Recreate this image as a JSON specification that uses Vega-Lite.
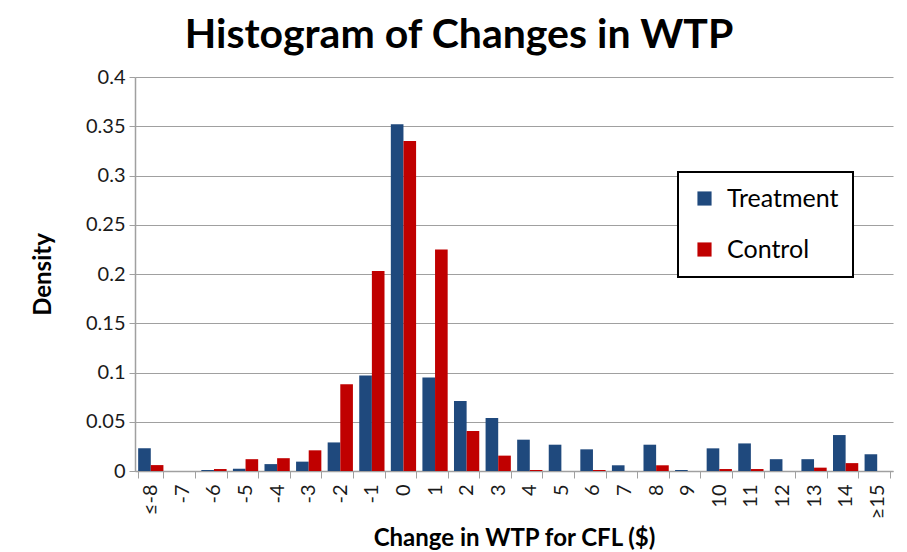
{
  "$schema": "https://vega.github.io/schema/vega-lite/v6.json",
  "width": 758,
  "height": 394,
  "autosize": {"type": "none"},
  "padding": {"left": 135, "top": 77, "right": 14, "bottom": 81},
  "background": "white",
  "title": {
    "text": "Histogram of Changes in WTP",
    "font": "Lato",
    "fontSize": 41,
    "fontWeight": "bold",
    "color": "#000000",
    "anchor": "middle",
    "offset": 10,
    "dx": -55
  },
  "data": {
    "values": [
      {"cat": "≤-8", "group": "Treatment", "density": 0.023},
      {"cat": "≤-8", "group": "Control", "density": 0.006},
      {"cat": "-7", "group": "Treatment", "density": 0},
      {"cat": "-7", "group": "Control", "density": 0},
      {"cat": "-6", "group": "Treatment", "density": 0.001},
      {"cat": "-6", "group": "Control", "density": 0.002},
      {"cat": "-5", "group": "Treatment", "density": 0.0023},
      {"cat": "-5", "group": "Control", "density": 0.012},
      {"cat": "-4", "group": "Treatment", "density": 0.007},
      {"cat": "-4", "group": "Control", "density": 0.013},
      {"cat": "-3", "group": "Treatment", "density": 0.0095},
      {"cat": "-3", "group": "Control", "density": 0.021},
      {"cat": "-2", "group": "Treatment", "density": 0.029},
      {"cat": "-2", "group": "Control", "density": 0.088},
      {"cat": "-1", "group": "Treatment", "density": 0.097},
      {"cat": "-1", "group": "Control", "density": 0.203},
      {"cat": "0", "group": "Treatment", "density": 0.352},
      {"cat": "0", "group": "Control", "density": 0.335},
      {"cat": "1", "group": "Treatment", "density": 0.095},
      {"cat": "1", "group": "Control", "density": 0.225},
      {"cat": "2", "group": "Treatment", "density": 0.071},
      {"cat": "2", "group": "Control", "density": 0.0406},
      {"cat": "3", "group": "Treatment", "density": 0.0538},
      {"cat": "3", "group": "Control", "density": 0.0156},
      {"cat": "4", "group": "Treatment", "density": 0.0318},
      {"cat": "4", "group": "Control", "density": 0.001},
      {"cat": "5", "group": "Treatment", "density": 0.0267},
      {"cat": "5", "group": "Control", "density": 0},
      {"cat": "6", "group": "Treatment", "density": 0.022},
      {"cat": "6", "group": "Control", "density": 0.001},
      {"cat": "7", "group": "Treatment", "density": 0.0058},
      {"cat": "7", "group": "Control", "density": 0},
      {"cat": "8", "group": "Treatment", "density": 0.0267},
      {"cat": "8", "group": "Control", "density": 0.0058},
      {"cat": "9", "group": "Treatment", "density": 0.001},
      {"cat": "9", "group": "Control", "density": 0},
      {"cat": "10", "group": "Treatment", "density": 0.023},
      {"cat": "10", "group": "Control", "density": 0.002},
      {"cat": "11", "group": "Treatment", "density": 0.028},
      {"cat": "11", "group": "Control", "density": 0.002},
      {"cat": "12", "group": "Treatment", "density": 0.012},
      {"cat": "12", "group": "Control", "density": 0},
      {"cat": "13", "group": "Treatment", "density": 0.012},
      {"cat": "13", "group": "Control", "density": 0.0034},
      {"cat": "14", "group": "Treatment", "density": 0.0365},
      {"cat": "14", "group": "Control", "density": 0.008},
      {"cat": "≥15", "group": "Treatment", "density": 0.017},
      {"cat": "≥15", "group": "Control", "density": 0}
    ]
  },
  "mark": {"type": "bar"},
  "encoding": {
    "x": {
      "field": "cat",
      "type": "nominal",
      "sort": ["≤-8","-7","-6","-5","-4","-3","-2","-1","0","1","2","3","4","5","6","7","8","9","10","11","12","13","14","≥15"],
      "scale": {"paddingInner": 0.2, "paddingOuter": 0.1},
      "axis": {
        "title": "Change in WTP for CFL ($)",
        "titleFont": "Lato",
        "titleFontSize": 24,
        "titleFontWeight": "bold",
        "titleColor": "#000000",
        "titlePadding": 8,
        "labelAngle": -90,
        "labelFont": "Lato",
        "labelFontSize": 20,
        "labelColor": "#1a1a1a",
        "labelPadding": 6,
        "tickBand": "extent",
        "tickColor": "#a0a0a0",
        "tickSize": 7,
        "domainColor": "#a0a0a0",
        "domainWidth": 1.5
      }
    },
    "xOffset": {"field": "group", "type": "nominal", "sort": ["Treatment", "Control"]},
    "y": {
      "field": "density",
      "type": "quantitative",
      "scale": {"domain": [0, 0.4], "nice": false},
      "axis": {
        "title": "Density",
        "titleFont": "Lato",
        "titleFontSize": 24,
        "titleFontWeight": "bold",
        "titleColor": "#000000",
        "titlePadding": 30,
        "values": [0, 0.05, 0.1, 0.15, 0.2, 0.25, 0.3, 0.35, 0.4],
        "format": ".2~f",
        "labelFont": "Lato",
        "labelFontSize": 20,
        "labelColor": "#1a1a1a",
        "labelPadding": 4,
        "grid": true,
        "gridColor": "#a0a0a0",
        "gridWidth": 1.2,
        "tickColor": "#a0a0a0",
        "tickSize": 6,
        "domainColor": "#a0a0a0",
        "domainWidth": 1.5
      }
    },
    "color": {
      "field": "group",
      "type": "nominal",
      "scale": {"domain": ["Treatment", "Control"], "range": ["#1F497D", "#C00000"]},
      "legend": {
        "title": null,
        "orient": "none",
        "legendX": 543,
        "legendY": 95,
        "direction": "vertical",
        "fillColor": "white",
        "strokeColor": "#000000",
        "padding": 14,
        "symbolType": "square",
        "symbolSize": 200,
        "symbolStrokeWidth": 0,
        "labelFont": "Lato",
        "labelFontSize": 25,
        "labelColor": "#000000",
        "labelOffset": 10,
        "rowPadding": 25,
        "labelLimit": 200
      }
    }
  },
  "config": {
    "view": {"stroke": null},
    "legend": {"strokeWidth": 2}
  }
}
